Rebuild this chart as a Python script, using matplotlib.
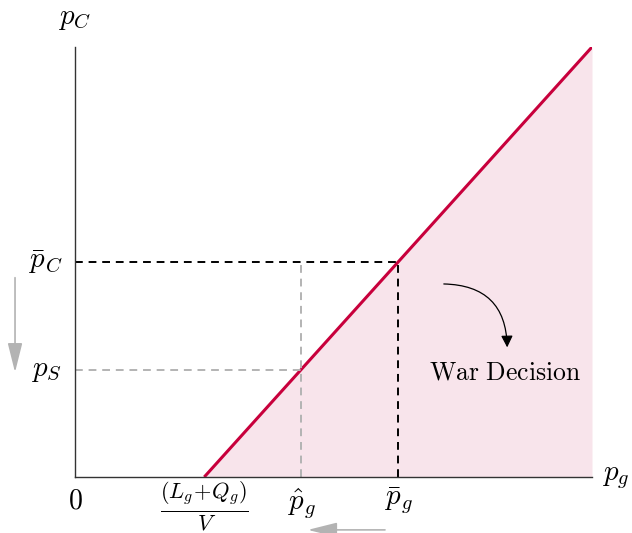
import numpy as np
import matplotlib.pyplot as plt
from matplotlib.patches import FancyArrowPatch

plt.rcParams['mathtext.fontset'] = 'cm'
plt.rcParams['font.family'] = 'DejaVu Serif'

# threshold curve (piecewise linear) and reference levels
kink = 0.25
x_line = np.array([0.25, 1.0])
y_line = np.array([0.0, 1.0])
p_S = 0.25
p_C_bar = 0.5
p_g_hat = 0.4375
p_g_bar = 0.625

red = '#C8003C'
pink = '#F8E4EB'
grey = '#B3B3B3'

fig = plt.figure(figsize=(6.32, 5.33), dpi=100)
ax = fig.add_axes([75 / 632, 56 / 533, 517 / 632, 430 / 533])
ax.set_xlim(0, 1)
ax.set_ylim(0, 1)

# shaded war region
ax.fill_between(x_line, 0, y_line, color=pink, lw=0)
ax.plot(x_line, y_line, color=red, lw=2.2, solid_capstyle='butt')

# dashed guides
ax.plot([0, p_g_bar], [p_C_bar, p_C_bar], '--', color='black', lw=1.4, dashes=(4, 3))
ax.plot([p_g_bar, p_g_bar], [0, p_C_bar], '--', color='black', lw=1.4, dashes=(4, 3))
ax.plot([0, p_g_hat], [p_S, p_S], '--', color=grey, lw=1.4, dashes=(4, 3))
ax.plot([p_g_hat, p_g_hat], [0, p_C_bar], '--', color=grey, lw=1.4, dashes=(4, 3))

for s in ['top', 'right']:
    ax.spines[s].set_visible(False)
for s in ['left', 'bottom']:
    ax.spines[s].set_color('#333333')
    ax.spines[s].set_linewidth(1.0)
ax.set_xticks([])
ax.set_yticks([])

fs = 21
ax.text(0, -0.025, r'$0$', ha='center', va='top', fontsize=fs - 1)
ax.text(kink, -0.006, r'$\frac{(L_g\!+\!Q_g)}{V}$', ha='center', va='top', fontsize=fs + 2)
ax.text(p_g_hat, -0.02, r'$\hat{p}_g$', ha='center', va='top', fontsize=fs)
ax.text(p_g_bar, -0.02, r'$\bar{p}_g$', ha='center', va='top', fontsize=fs)
ax.text(-0.025, p_C_bar, r'$\bar{p}_C$', ha='right', va='center', fontsize=fs)
ax.text(-0.025, p_S, r'$p_S$', ha='right', va='center', fontsize=fs)
ax.text(0, 1.035, r'$p_C$', ha='center', va='bottom', fontsize=fs)
ax.text(1.02, 0.0, r'$p_g$', ha='left', va='center', fontsize=fs)

ax.text(0.832, 0.245, r'$\mathrm{War\ Decision}$', ha='center', va='center', fontsize=18.5)

# curved arrow
arr = FancyArrowPatch((0.708, 0.449), (0.836, 0.295),
                      connectionstyle='angle3,angleA=0,angleB=90',
                      arrowstyle='-|>,head_length=7,head_width=3.5', color='black',
                      lw=0.9, clip_on=False)
ax.add_patch(arr)

# grey shift arrows
ax.annotate('', xy=(-0.116, 0.237), xytext=(-0.116, 0.47),
            arrowprops=dict(arrowstyle='-|>,head_length=1.8,head_width=0.45',
                            color=grey, lw=1.2), annotation_clip=False)
ax.annotate('', xy=(0.445, -0.123), xytext=(0.605, -0.123),
            arrowprops=dict(arrowstyle='-|>,head_length=1.8,head_width=0.45',
                            color=grey, lw=1.2), annotation_clip=False)

fig.savefig('out.png', dpi=100)
